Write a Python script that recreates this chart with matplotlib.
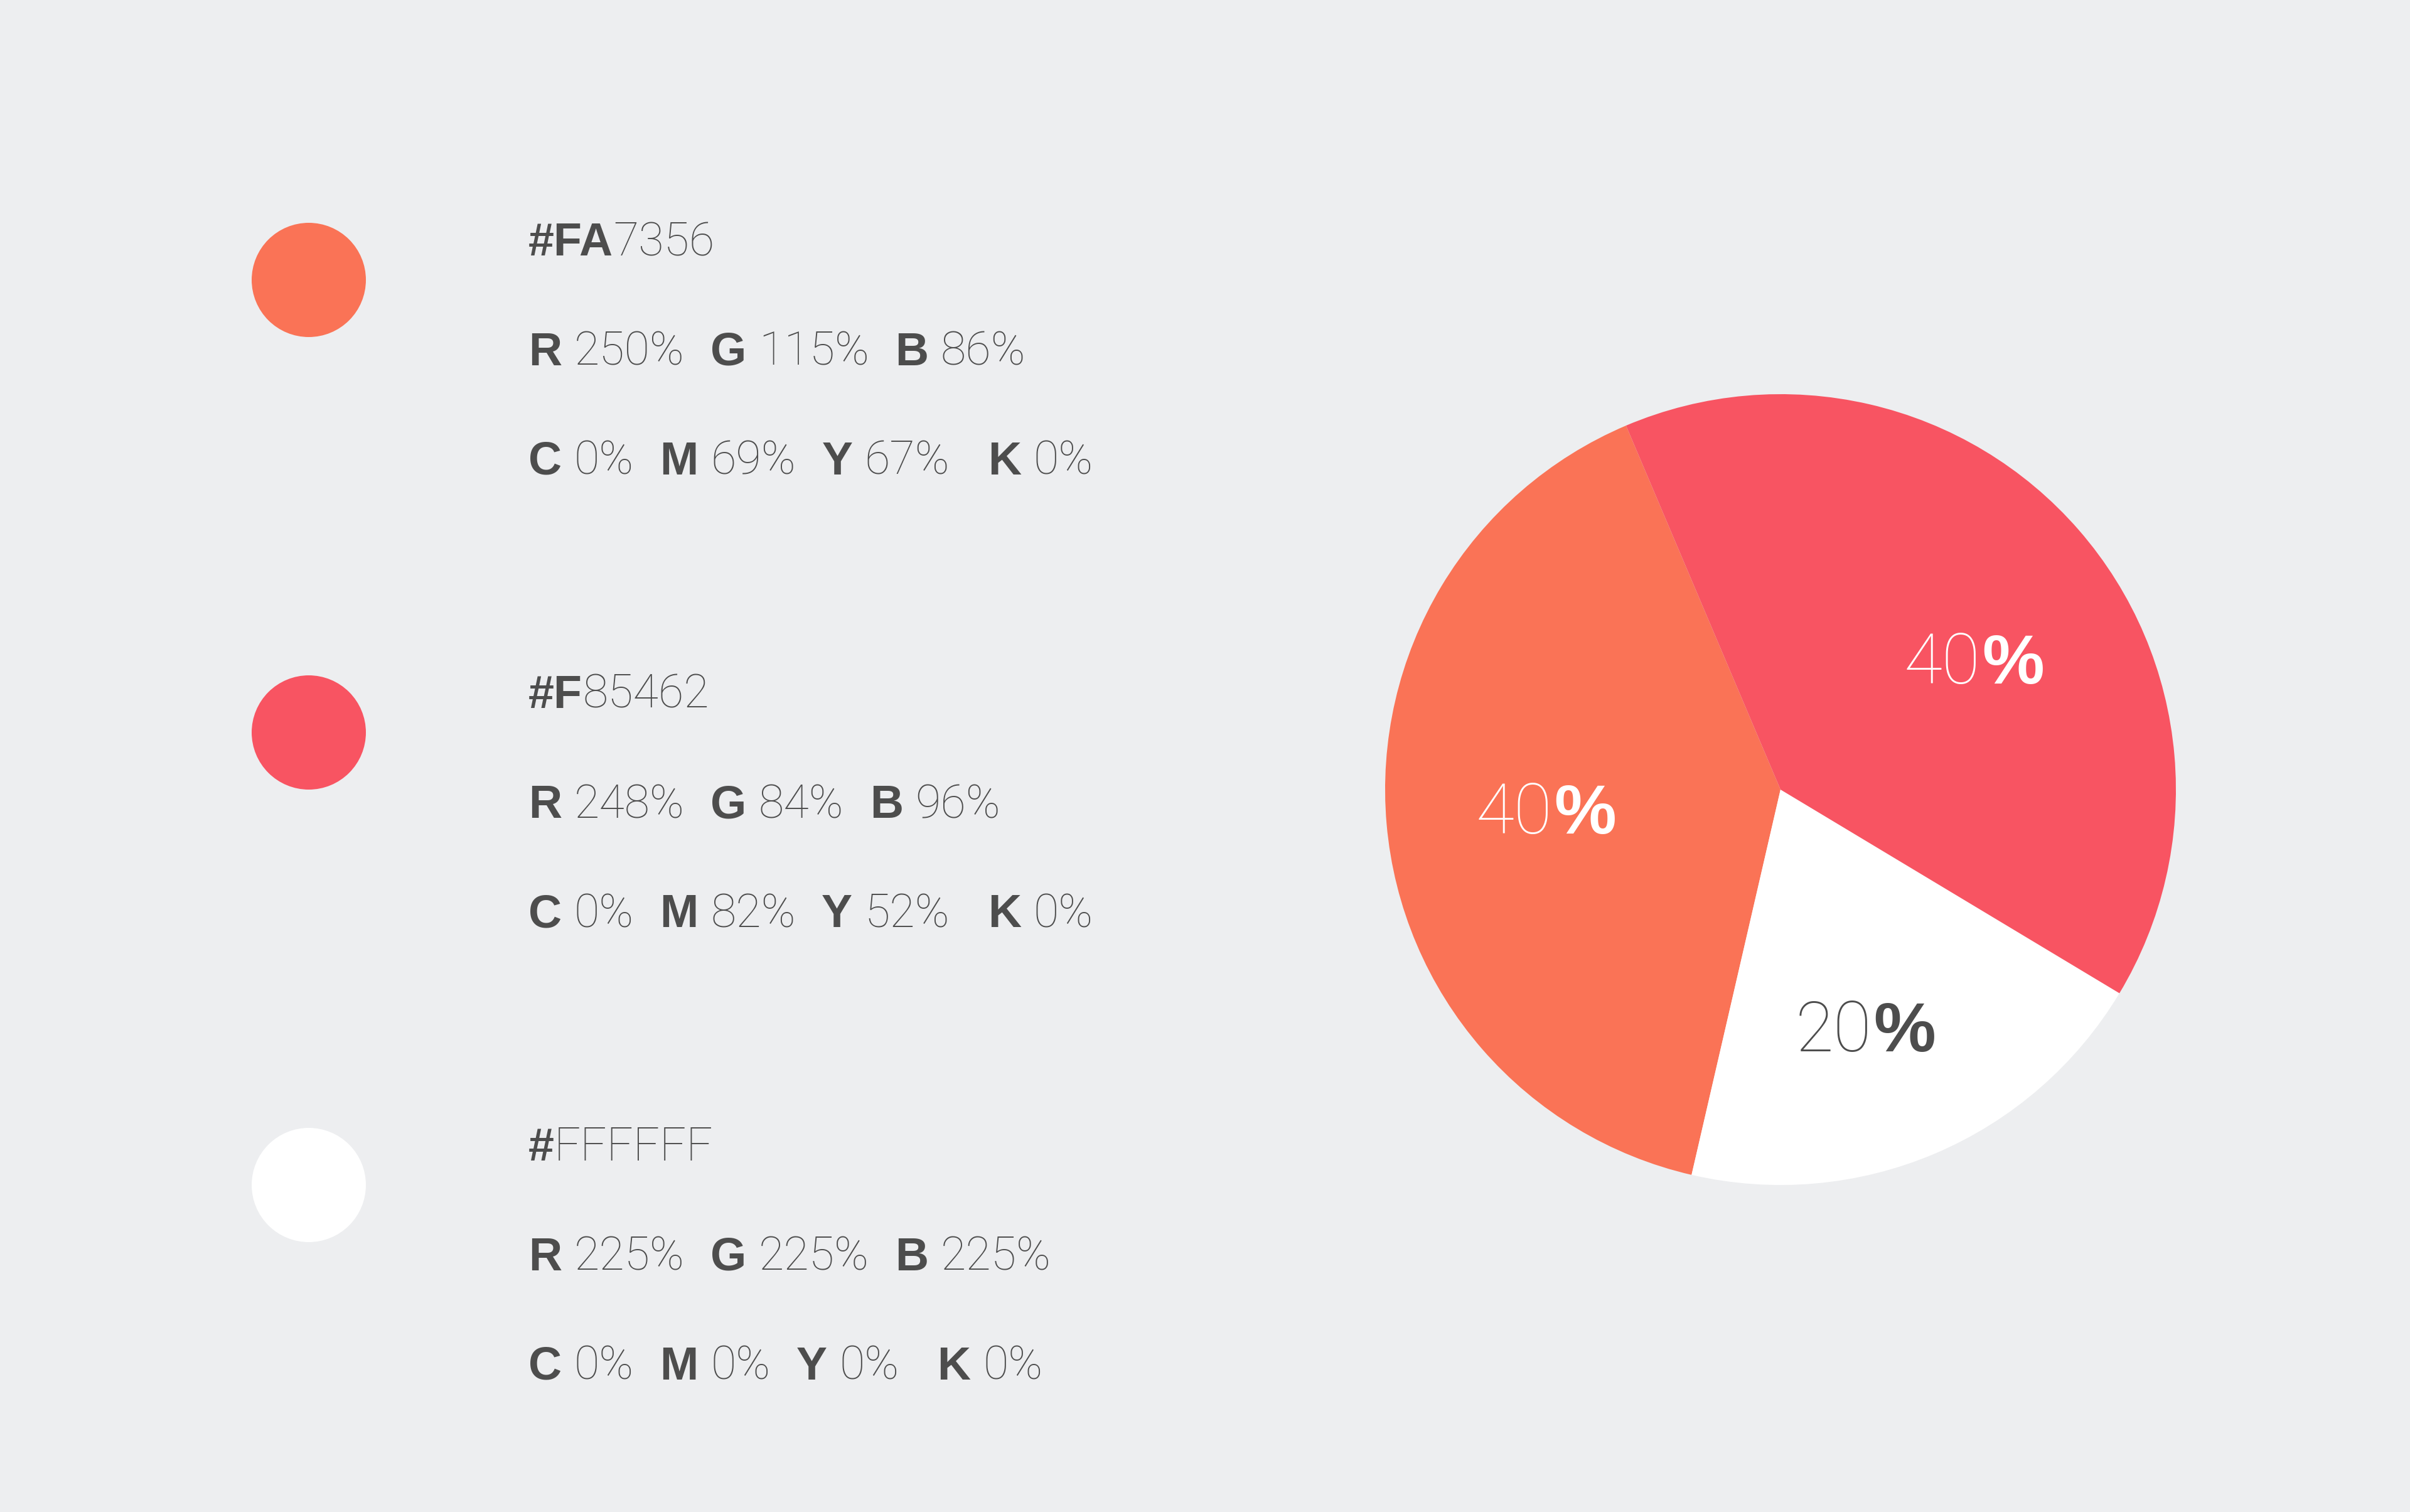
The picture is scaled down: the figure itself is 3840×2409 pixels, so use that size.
import numpy as np
import matplotlib
matplotlib.use('Agg')
from matplotlib import pyplot as plt
from matplotlib.patches import Circle

# swatch data
swatch_colors = ['#FA7356', '#F85462', '#FFFFFF']
hex_bold = ['#FA', '#F', '#']
hex_light = ['7356', '85462', 'FFFFFF']
rgb_values = [['250%', '115%', '86%'],
              ['248%', '84%', '96%'],
              ['225%', '225%', '225%']]
cmyk_values = [['0%', '69%', '67%', '0%'],
               ['0%', '82%', '52%', '0%'],
               ['0%', '0%', '0%', '0%']]

# pie data
pie_values = [40, 20, 40]
pie_colors = ['#FA7356', '#FFFFFF', '#F85462']
pie_labels = ['40', '20', '40']
pie_label_colors = ['white', '#4D4D4D', 'white']

BG = '#EDEEF0'
TEXT = '#4D4D4D'
W, H = 3840, 2409
BOLD = ['Liberation Sans', 'DejaVu Sans']
LIGHT = ['Roboto', 'DejaVu Sans']
LIGHT_W = 100

# label placement inside the wedges (radius fraction, angle nudge in deg)
label_dist = [0.6, 0.65, 0.58]
label_nudge = [1, -4, -8]


def row(ax, x, y, parts, size):
    """parts: (text, bold, gap in points before it)"""
    prev = None
    for txt, bold, gap in parts:
        kw = dict(fontsize=size, color=TEXT, va='baseline', ha='left',
                  family=BOLD if bold else LIGHT,
                  fontweight='bold' if bold else LIGHT_W)
        if prev is None:
            prev = ax.text(x, y, txt, **kw)
        else:
            prev = ax.annotate(txt, xy=(1, y), xycoords=(prev, 'data'),
                               xytext=(gap, 0), textcoords='offset points', **kw)
    return prev


fig = plt.figure(figsize=(W / 100, H / 100), dpi=100, facecolor=BG)
ax = fig.add_axes([0, 0, 1, 1])
ax.set_facecolor(BG)

# pie chart
cx, cy0, rad = 2837, H - 1258, 630
wedges, _ = ax.pie(pie_values, colors=pie_colors, startangle=113, counterclock=True,
                   center=(cx, cy0), radius=rad,
                   wedgeprops=dict(linewidth=0))
for w, lab, c, d, n in zip(wedges, pie_labels, pie_label_colors, label_dist, label_nudge):
    ang = np.deg2rad((w.theta1 + w.theta2) / 2 + n)
    lx = cx + d * rad * np.cos(ang)
    ly = cy0 + d * rad * np.sin(ang) - 30
    t = ax.text(lx + 12, ly, lab, fontsize=80, color=c, ha='right', va='baseline',
                family=LIGHT, fontweight=LIGHT_W)
    ax.annotate('%', xy=(1, ly), xycoords=(t, 'data'), xytext=(2, 0),
                textcoords='offset points', fontsize=80, color=c, ha='left',
                va='baseline', family=BOLD, fontweight='bold')

ax.set_xlim(0, W)
ax.set_ylim(0, H)
ax.set_aspect('equal')
ax.axis('off')

# swatches and their codes
size = 53
for i in range(3):
    cy = H - (446 + 721 * i)
    ax.add_patch(Circle((492, cy), 91, color=swatch_colors[i], linewidth=0))
    base = H - (407 + 721 * i)
    row(ax, 842, base, [(hex_bold[i], True, 0), (hex_light[i], False, 0)], size)
    r, g, b = rgb_values[i]
    row(ax, 842, base - 175, [('R', True, 0), (r, False, 14), ('G', True, 30),
                              (g, False, 14), ('B', True, 30), (b, False, 14)], size)
    c, m, y, k = cmyk_values[i]
    row(ax, 842, base - 349, [('C', True, 0), (c, False, 14), ('M', True, 30),
                              (m, False, 14), ('Y', True, 30), (y, False, 14),
                              ('K', True, 44), (k, False, 14)], size)

fig.savefig('out.png', dpi=100, facecolor=BG)
